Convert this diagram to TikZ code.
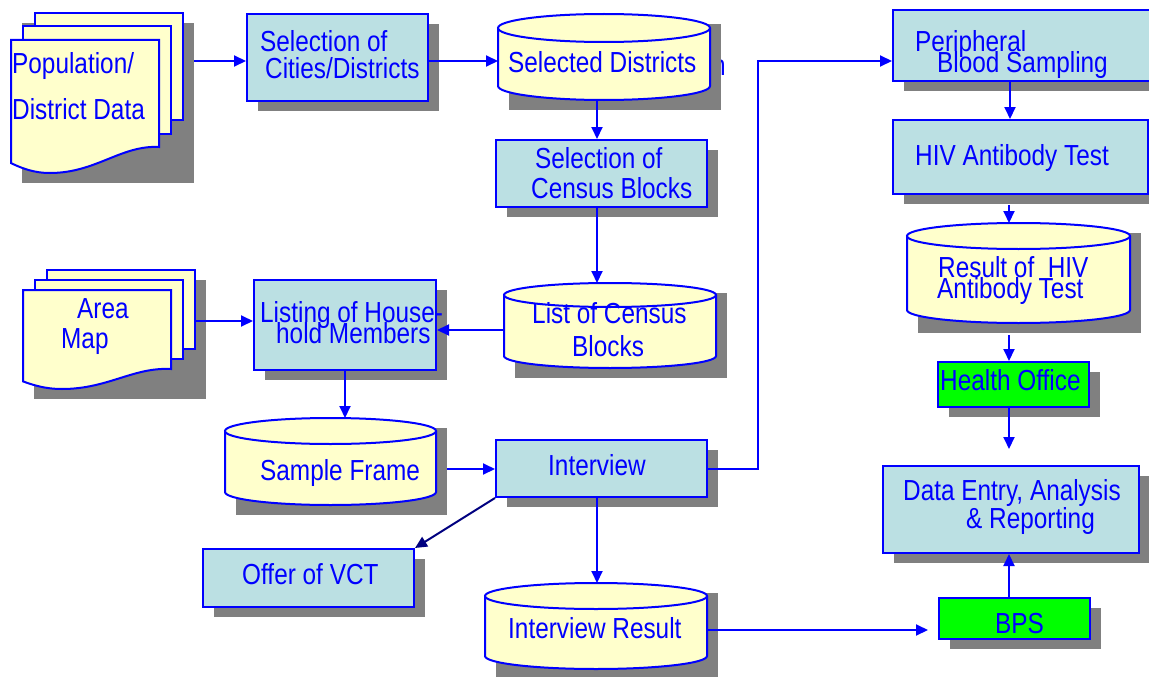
\documentclass[tikz,border=0pt]{standalone}
\usepackage{fontspec}
\setmainfont{Liberation Sans}[FakeStretch=0.84]
\usetikzlibrary{arrows.meta}
\pgfdeclarelayer{bg}
\pgfsetlayers{bg,main}
\definecolor{tb}{RGB}{0,0,255}
\definecolor{lb}{RGB}{187,224,227}
\definecolor{yl}{RGB}{255,255,204}
\definecolor{gr}{RGB}{0,255,0}
\definecolor{sh}{RGB}{128,128,128}
\definecolor{nv}{RGB}{0,0,128}

\newcommand\shbox[6]{%
 \begin{pgfonlayer}{bg}\fill[sh] (#2+11,#3+10) rectangle (#4+11,#5+10);\end{pgfonlayer}
 \node[#6, minimum width={(#4-#2)*1pt}, minimum height={(#5-#3)*1pt}] (#1) at ({(#2+#4)/2},{(#3+#5)/2}) {};
}
\newcommand\cyl[6]{%
 \begin{pgfonlayer}{bg}\fill[sh] (#2+11,#3+10) rectangle (#4+11,#5+10);\end{pgfonlayer}
 \pgfmathsetmacro\cxm{(#2+#4)/2}\pgfmathsetmacro\rxm{(#4-#2)/2}
 \path[cylsty] (#2,#3+#6) -- (#2,#5-#6) .. controls (#2,#5-0.448*#6) and (\cxm-0.552*\rxm,#5) .. (\cxm,#5) .. controls (\cxm+0.552*\rxm,#5) and (#4,#5-0.448*#6) .. (#4,#5-#6) -- (#4,#3+#6);
 \path[cylsty] (\cxm,#3+#6) ellipse [x radius={\rxm*1pt}, y radius={#6*1pt}];
 \node[inner sep=0, outer sep=0, minimum width={(#4-#2)*1pt}, minimum height={(#5-#3)*1pt}] (#1) at (\cxm,{(#3+#5)/2}) {};
}
\newcommand\mdoc[6]{%
 \begin{pgfonlayer}{bg}\fill[sh] (#2+11,{#3-2*#5+10}) rectangle (#2+183,#3+#4+#6+10);\end{pgfonlayer}
 \path[docsty] (#2+24,{#3-2*#5}) rectangle (#2+172,{#3-2*#5+#4});
 \path[docsty] (#2+12,#3-#5) rectangle (#2+160,#3-#5+#4);
 \path[docsty] (#2,#3) -- (#2+148,#3) -- (#2+148,#3+#4) .. controls (#2+110,#3+#4-2) and (#2+85,#3+#4+#6) .. (#2+39,#3+#4+#6) .. controls (#2+22,#3+#4+#6) and (#2+10,#3+#4+0.8*#6) .. (#2,#3+#4+0.62*#6) -- cycle;
 \node[inner sep=0, outer sep=0, minimum width=172pt, minimum height={(2*#5+#4+#6)*1pt}] (#1) at (#2+86,{#3-2*#5+(2*#5+#4+#6)/2}) {};
}

\begin{document}
\begin{tikzpicture}[x=1pt,y=-1pt,
  bluebox/.style={draw=tb, fill=lb, line width=2pt, inner sep=0},
  greenbox/.style={draw=tb, fill=gr, line width=2pt, inner sep=0},
  cylsty/.style={draw=tb, fill=yl, line width=2pt},
  docsty/.style={draw=tb, fill=yl, line width=2pt},
  txt/.style={text=tb, font=\fontsize{29}{31}\selectfont, anchor=base west, inner sep=0},
  conn/.style={draw=tb, line width=2pt, -{Triangle[length=12pt,width=11pt]}},
  navyconn/.style={draw=nv, line width=2pt, -{Triangle[length=12pt,width=11pt]}}]
\useasboundingbox (0,0) rectangle (1149,677);
\begin{pgfonlayer}{bg}
 \fill[white] (0,0) rectangle (1149,677);
 \node[txt] (tn) at (712,75) {n};
\end{pgfonlayer}

% shapes
\mdoc{pop}{11}{40}{107}{13.5}{26}
\shbox{selCities}{247}{14}{428}{101}{bluebox}
\cyl{selDist}{498}{14}{710}{100}{14}
\shbox{census}{496}{140}{707}{207}{bluebox}
\mdoc{area}{23}{290}{79}{10}{20}
\shbox{listing}{254}{280}{436}{370}{bluebox}
\cyl{listCB}{504}{283}{716}{368}{12}
\cyl{sample}{225}{418}{436}{505}{13}
\shbox{interview}{496}{440}{707}{497}{bluebox}
\shbox{offer}{203}{549}{414}{607}{bluebox}
\cyl{ires}{485}{583}{707}{669}{13}
\shbox{periph}{893}{10}{1158}{81}{bluebox}
\shbox{hiv}{893}{120}{1148}{194}{bluebox}
\cyl{result}{907}{223}{1130}{323}{13}
\shbox{health}{938}{362}{1089}{407}{greenbox}
\shbox{data}{883}{466}{1139}{553}{bluebox}
\shbox{bps}{939}{598}{1090}{639}{greenbox}

% texts
\node[txt] (t1) at (12,74) {Population/};
\node[txt] (t2) at (12,119) {District Data};
\node[txt] (t3) at (260,52) {Selection of};
\node[txt] (t4) at (265,78) {Cities/Districts};
\node[txt] (t5) at (508,73) {Selected Districts};
\node[txt] (t6) at (535,168) {Selection of};
\node[txt] (t7) at (531,198) {Census Blocks};
\node[txt] (t8) at (915,52) {Peripheral};
\node[txt] (t9) at (937,73) {Blood Sampling};
\node[txt] (t10) at (915,165) {HIV Antibody Test};
\node[txt] (t11) at (938,277) {Result of~ HIV};
\node[txt] (t12) at (937,298) {Antibody Test};
\node[txt] (t13) at (77,318) {Area};
\node[txt] (t14) at (61,348) {Map};
\node[txt] (t15) at (260,322) {Listing of House-};
\node[txt] (t16) at (276,343) {hold Members};
\node[txt] (t17) at (532,323) {List of Census};
\node[txt] (t18) at (572,356) {Blocks};
\node[txt] (t19) at (940,390) {Health Office};
\node[txt] (t20) at (260,480) {Sample Frame};
\node[txt] (t21) at (548,475) {Interview};
\node[txt] (t22) at (903,500) {Data Entry, Analysis};
\node[txt] (t23) at (966,528) {\& Reporting};
\node[txt] (t24) at (242,584) {Offer of VCT};
\node[txt] (t25) at (508,638) {Interview Result};
\node[txt] (t26) at (995,633) {BPS};

% connector helpers
\coordinate (colA) at (1010,0);
\coordinate (colB) at (597,0);
\coordinate (rowA) at (0,61);
\coordinate (popout) at (194,61);
\coordinate (areaout) at (194,321);
\coordinate (rowL) at (0,330);
\coordinate (sfout) at (447,469);
\coordinate (jog) at (758,61);
\coordinate (hivout) at (1009,205);
\coordinate (resout) at (1009,335);
\coordinate (hoend) at (1009,449);
\coordinate (bpsin) at (928,630);

% connectors
\draw[conn] (popout) -- (selCities.west |- popout);
\draw[conn] (selCities.east |- rowA) -- (selDist.west |- rowA);
\draw[conn] (selDist.south -| colB) -- (census.north -| colB);
\draw[conn] (census.south -| colB) -- (listCB.north -| colB);
\draw[conn] (listCB.west |- rowL) -- (listing.east |- rowL);
\draw[conn] (areaout) -- (listing.west |- areaout);
\draw[conn] (listing.south) -- (listing.south |- sample.north);
\draw[conn] (sfout) -- (interview.west |- sfout);
\draw[conn] (interview.east) -| (jog) -- (periph.west |- jog);
\draw[navyconn] (interview.south west) -- (offer.north east);
\draw[conn] (interview.south -| colB) -- (ires.north -| colB);
\draw[conn] (ires.east |- bpsin) -- (bpsin);
\draw[conn] (periph.south -| colA) -- (hiv.north -| colA);
\draw[conn] (hivout) -- (result.north -| hivout);
\draw[conn] (resout) -- (health.north -| resout);
\draw[conn] (health.south -| hoend) -- (hoend);
\draw[conn] (bps.north -| hoend) -- (data.south -| hoend);
\end{tikzpicture}
\end{document}
